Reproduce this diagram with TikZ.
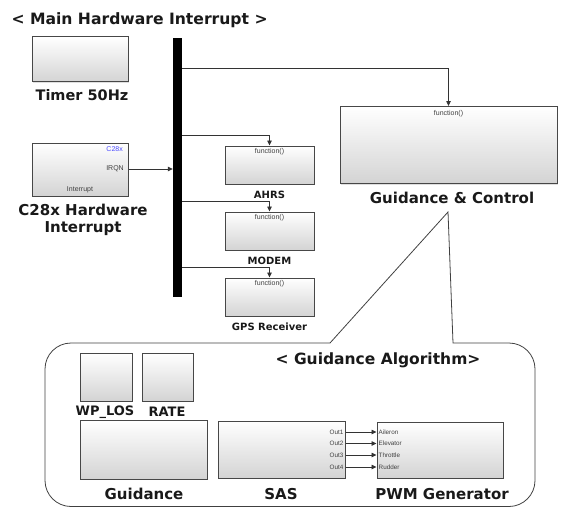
\documentclass[tikz,border=0pt]{standalone}
\usepackage{fontspec}
\setmainfont{Liberation Sans}
\newfontfamily\lblfont{DejaVu Sans}
\usetikzlibrary{arrows.meta,shadows}
\tikzset{
  blk/.style={draw=black!72, line width=1pt, top color=white, middle color=white!96!black,
    bottom color=black!17,
    drop shadow={shadow xshift=1.2pt, shadow yshift=-1.2pt, opacity=0.25},
    inner sep=0pt},
  wire/.style={draw=black!80, line width=0.8pt},
  arr/.style={wire, -{Triangle[length=5pt,width=4.5pt]}},
  big/.style={font=\lblfont\bfseries\fontsize{15}{17}\selectfont, text=black!90},
  mid/.style={font=\lblfont\bfseries\fontsize{13}{15}\selectfont, text=black!90},
  small/.style={font=\lblfont\bfseries\fontsize{10}{12}\selectfont, text=black!90},
  tiny/.style={font=\fontsize{7}{8}\selectfont, text=black!75, inner sep=1pt},
  port/.style={font=\fontsize{6.3}{7}\selectfont, text=black!75, inner sep=1pt},
}
\begin{document}
\begin{tikzpicture}[x=1pt, y=-1pt]
\useasboundingbox (0,0) rectangle (561,508);

% ---------- main interrupt level ----------
\node[font=\lblfont\bfseries\fontsize{15.6}{17}\selectfont, text=black!90, anchor=west] (title) at (8,20) {< Main Hardware Interrupt >};

\node[blk, minimum width=96pt, minimum height=45pt] (timer) at (80,59.5) {};
\node[font=\lblfont\bfseries\fontsize{14.5}{16}\selectfont, text=black!90] (timerlbl) at (82,95) {Timer 50Hz};

\node[blk, minimum width=96pt, minimum height=53pt] (c28) at (80,169.5) {};
\node[tiny, text=blue!70, anchor=east] (c28name) at (124,149) {C28x};
\node[tiny, anchor=east] (irqn) at (125,169) {IRQN};
\node[tiny] (intr) at (80,190) {Interrupt};
\node[big, align=center] (c28lbl) at (83,220) {C28x Hardware\\Interrupt};

% bus bar
\node[fill=black, minimum width=9pt, minimum height=259pt, inner sep=0pt] (bus) at (177.5,167.5) {};

\draw[arr] (c28.east |- irqn) -- (bus.west |- irqn);

% function-call subsystems
\foreach \nm/\yy/\lbl in {ahrs/165/AHRS, modem/231/MODEM, gps/297/GPS Receiver}{
  \node[blk, minimum width=89pt, minimum height=38pt] (\nm) at (269.5,\yy) {};
  \node[tiny, anchor=north] (\nm fn) at ([yshift=-2pt]\nm.north) {function()};
  \node[small, anchor=north] (\nm lbl) at ([yshift=-3pt]\nm.south) {\lbl};
}
\draw[arr] (bus.east |- 0,135) -| (ahrs.north);
\draw[arr] (bus.east |- 0,201) -| (modem.north);
\draw[arr] (bus.east |- 0,267) -| (gps.north);

% guidance & control
\node[blk, minimum width=217pt, minimum height=77pt] (gc) at (448.5,145) {};
\node[tiny, anchor=north] (gcfn) at ([yshift=-3pt]gc.north) {function()};
\node[big] (gclbl) at (452,198) {Guidance \& Control};
\draw[arr] (bus.east |- 0,68) -| (gc.north);

% ---------- callout with the guidance algorithm ----------
\coordinate (tip) at (448,212);
\coordinate (cl) at (330,343);
\coordinate (cr) at (453,343);
\draw[line width=0.8pt, black!75]
  (cl) -- (tip) -- (cr) [rounded corners=26pt] -- (535,343) -- (535,506.5)
  -- (45,506.5) -- (45,343) [sharp corners] -- (cl);

\node[font=\lblfont\bfseries\fontsize{15.5}{17}\selectfont, text=black!90] (galbl) at (378,360) {< Guidance Algorithm>};

\node[blk, minimum width=52pt, minimum height=48pt] (wplos) at (106,377) {};
\node[blk, minimum width=51pt, minimum height=48pt] (rate) at (167.5,377) {};
\node[mid] (wploslbl) at (105,412) {WP\_LOS};
\node[mid] (ratelbl) at (167,412) {RATE};

\node[blk, minimum width=127pt, minimum height=59pt] (guid) at (143.5,449.5) {};
\node[blk, minimum width=127pt, minimum height=57pt] (sas) at (281.5,449.5) {};
\node[blk, minimum width=126pt, minimum height=56pt] (pwm) at (440,450) {};
\node[big] (guidlbl) at (144,494) {Guidance};
\node[big] (saslbl) at (281,494) {SAS};
\node[big] (pwmlbl) at (442,494) {PWM Generator};

\foreach \i/\yy/\inp in {1/432/Aileron, 2/443.5/Elevator, 3/455/Throttle, 4/467/Rudder}{
  \node[port, anchor=east] (out\i) at ([xshift=-1pt]sas.east |- 0,\yy) {Out\i};
  \node[port, anchor=west] (in\i) at ([xshift=1pt]pwm.west |- 0,\yy) {\inp};
  \draw[arr] (sas.east |- out\i) -- (pwm.west |- in\i);
}
\end{tikzpicture}
\end{document}
